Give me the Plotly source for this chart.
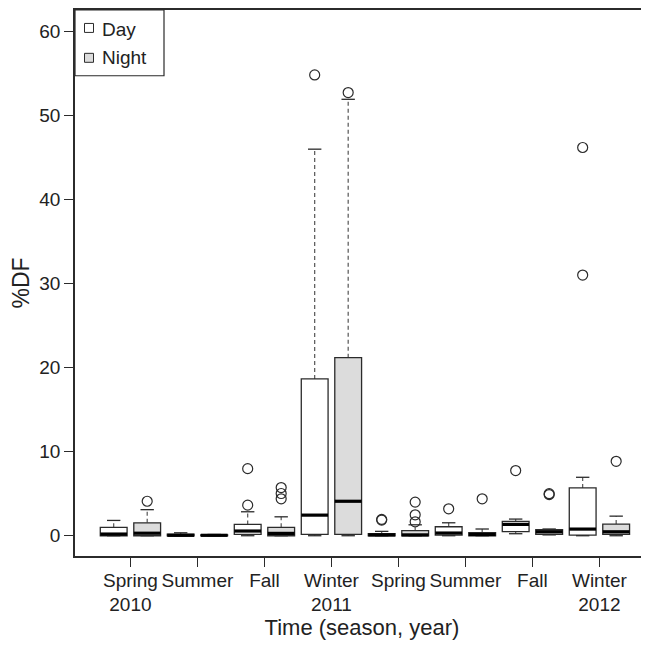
import plotly.graph_objects as go

# ---- data ----
season_labels = ["Spring<br>2010", "Summer", "Fall", "Winter<br>2011",
                 "Spring", "Summer", "Fall", "Winter<br>2012"]

day_lower = [0.0, 0.0, 0.0, 0.0, 0.0, 0.0, 0.24, 0.0]
day_q1 = [0.0, 0.0, 0.17, 0.17, 0.0, 0.08, 0.48, 0.08]
day_median = [0.2, 0.05, 0.56, 2.45, 0.1, 0.32, 1.35, 0.79]
day_q3 = [1.0, 0.2, 1.35, 18.65, 0.24, 1.07, 1.7, 5.69]
day_upper = [1.82, 0.35, 2.85, 45.97, 0.52, 1.54, 1.98, 6.95]
day_outliers = [[], [], [3.64, 7.98], [54.8], [1.86, 1.95], [3.2], [7.75], [31.0, 46.17]]

night_lower = [0.0, 0.0, 0.0, 0.0, 0.0, 0.0, 0.1, 0.0]
night_q1 = [0.0, 0.0, 0.0, 0.17, 0.0, 0.0, 0.17, 0.17]
night_median = [0.3, 0.05, 0.28, 4.1, 0.1, 0.15, 0.47, 0.47]
night_q3 = [1.54, 0.1, 1.0, 21.17, 0.6, 0.36, 0.71, 1.39]
night_upper = [3.1, 0.15, 2.25, 51.9, 1.3, 0.8, 0.8, 2.33]
night_outliers = [[4.1], [], [4.39, 5.02, 5.73], [52.7], [1.66, 2.49, 4.0], [4.39], [4.9, 5.0], [8.85]]

y_ticks = [0, 10, 20, 30, 40, 50, 60]

# ---- style ----
FONT = "Liberation Sans, Arial, Helvetica, sans-serif"
INK = "#2b2b2b"
DAY_FILL = "white"
NIGHT_FILL = "#dcdcdc"
BOX_W = 0.8
CAP_W = 0.4

# page has an 8px body margin; figure sized to fill the remaining window
OFF = 8
W, H = 641, 640
ML, MR, MT, MB = 75 - OFF, 0, 8 - OFF, 640 - (556 - OFF)
PW, PH = W - ML - MR, H - MT - MB


def px(xp):  # page pixel -> paper x
    return (xp - OFF - ML) / PW


def py(yp):  # page pixel -> paper y
    return (H - MB - (yp - OFF)) / PH


fig = go.Figure()
shapes = []


def add_box(pos, lo, q1, med, q3, hi, outs, fill):
    for a, b in ((q3, hi), (lo, q1)):
        if b > a:
            shapes.append(dict(type="line", xref="x", yref="y", x0=pos, x1=pos, y0=a, y1=b,
                               line=dict(color="#555555", width=1.2, dash="4px,3px")))
    for v in (lo, hi):
        shapes.append(dict(type="line", xref="x", yref="y", x0=pos - CAP_W / 2, x1=pos + CAP_W / 2,
                           y0=v, y1=v, line=dict(color=INK, width=1.3)))
    shapes.append(dict(type="rect", xref="x", yref="y", x0=pos - BOX_W / 2, x1=pos + BOX_W / 2,
                       y0=q1, y1=q3, fillcolor=fill, line=dict(color=INK, width=1.3)))
    shapes.append(dict(type="line", xref="x", yref="y", x0=pos - BOX_W / 2, x1=pos + BOX_W / 2,
                       y0=med, y1=med, line=dict(color="black", width=3.2)))
    if outs:
        fig.add_trace(go.Scatter(x=[pos] * len(outs), y=outs, mode="markers", showlegend=False,
                                 hoverinfo="y",
                                 marker=dict(symbol="circle-open", size=10,
                                             color=INK, line=dict(width=1.2, color=INK))))


for i in range(len(season_labels)):
    add_box(2 * i + 1, day_lower[i], day_q1[i], day_median[i], day_q3[i], day_upper[i],
            day_outliers[i], DAY_FILL)
    add_box(2 * i + 2, night_lower[i], night_q1[i], night_median[i], night_q3[i], night_upper[i],
            night_outliers[i], NIGHT_FILL)

# ---- legend (drawn manually, R style) ----
shapes.append(dict(type="rect", xref="paper", yref="paper", x0=px(75), x1=px(164), y0=py(74), y1=py(8),
                   fillcolor="white", line=dict(color=INK, width=1.2), layer="above"))
annotations = []
for name, fill, cy, ty in (("Day", DAY_FILL, 26, 28), ("Night", NIGHT_FILL, 56, 56)):
    shapes.append(dict(type="rect", xref="paper", yref="paper", x0=px(84.5), x1=px(93.5),
                       y0=py(cy + 4.5), y1=py(cy - 4.5), fillcolor=fill,
                       line=dict(color=INK, width=1), layer="above"))
    annotations.append(dict(text=name, xref="paper", yref="paper", x=px(100), y=py(ty),
                            xanchor="left", yanchor="middle", showarrow=False,
                            font=dict(family=FONT, size=19, color="#222")))

fig.update_layout(
    width=W, height=H,
    margin=dict(l=ML, r=MR, t=MT, b=MB, pad=0),
    paper_bgcolor="white", plot_bgcolor="white",
    font=dict(family=FONT, color="#222", size=19),
    showlegend=False,
    shapes=shapes,
    annotations=annotations,
    xaxis=dict(
        range=[-0.155, 16.98],
        tickmode="array",
        tickvals=[2 * i + 1.5 for i in range(len(season_labels))],
        ticktext=season_labels,
        ticks="outside", ticklen=9, tickwidth=1.2, tickcolor=INK,
        showline=True, linecolor=INK, linewidth=1.5, mirror=True,
        showgrid=False, zeroline=False,
        tickfont=dict(size=19),
        ticklabelstandoff=-3,
        title=dict(text="Time (season, year)", font=dict(size=22), standoff=4),
    ),
    yaxis=dict(
        range=[-2.41, 62.52],
        tickmode="array", tickvals=y_ticks,
        ticks="outside", ticklen=9, tickwidth=1.2, tickcolor=INK,
        showline=True, linecolor=INK, linewidth=1.5,
        showgrid=False, zeroline=False,
        tickfont=dict(size=19),
        title=dict(text="%DF", font=dict(size=23), standoff=10),
    ),
)

fig.write_html("out.html")
